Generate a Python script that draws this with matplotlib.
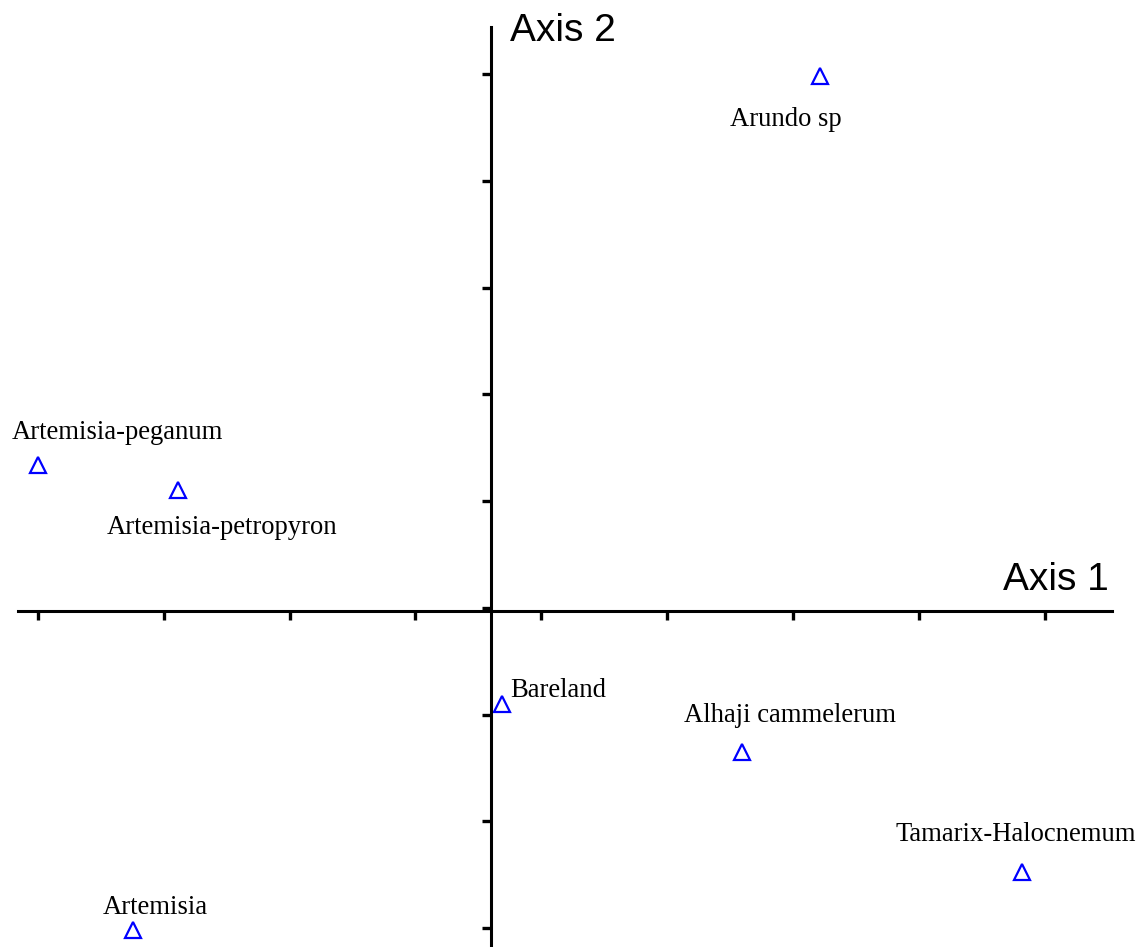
"""Ordination biplot of vegetation types on the first two axes."""

from matplotlib import pyplot as plt

# Site scores on axis 1 and axis 2.
names = [
    "Arundo sp",
    "Artemisia-peganum",
    "Artemisia-petropyron",
    "Bareland",
    "Alhaji cammelerum",
    "Tamarix-Halocnemum",
    "Artemisia",
]
axis1 = [2.61, -3.60, -2.49, 0.09, 1.99, 4.22, -2.84]
axis2 = [5.01, 1.37, 1.13, -0.87, -1.32, -2.45, -2.99]

# Tick positions along each axis.
xticks = [-3.6 + k for k in range(9)]
yticks = [-2.97 + k for k in range(9)]

# Label offsets (points) and horizontal alignment for each site.
label_offsets = [
    (-24, -31, "center"),
    (57, 23.5, "center"),
    (32, -26.5, "center"),
    (6, 9.5, "left"),
    (35, 26.5, "center"),
    (-5, 27.5, "center"),
    (16, 16.5, "center"),
]

fig = plt.figure(figsize=(11.45, 9.47), dpi=100)
ax = fig.add_axes([0, 0, 1, 1])
ax.set_xlim(-3.90, 5.195)
ax.set_ylim(-3.148, 5.724)

for side in ("top", "right"):
    ax.spines[side].set_visible(False)
for side in ("left", "bottom"):
    ax.spines[side].set_position(("data", 0))
    ax.spines[side].set_linewidth(2.2)
ax.spines["bottom"].set_bounds(-3.757, 4.93)
ax.spines["left"].set_bounds(-3.2, 5.47)

ax.set_xticks(xticks)
ax.set_yticks(yticks)
ax.tick_params(direction="out", length=6.5, width=2.4, labelbottom=False,
               labelleft=False)

ax.plot(axis1, axis2, linestyle="none", marker="^", markersize=12,
        markerfacecolor="none", markeredgecolor="#0000ff",
        markeredgewidth=1.6)

for name, x, y, (dx, dy, ha) in zip(names, axis1, axis2, label_offsets):
    ax.annotate(name, (x, y), xytext=(dx, dy), textcoords="offset points",
                ha=ha, va="center", fontsize=19.2, family="Liberation Serif")

ax.text(0.151, 5.34, "Axis 2", fontsize=28, family="Liberation Sans",
        ha="left", va="baseline")
ax.text(4.067, 0.197, "Axis 1", fontsize=28, family="Liberation Sans",
        ha="left", va="baseline")

fig.savefig("out.png", dpi=100)
